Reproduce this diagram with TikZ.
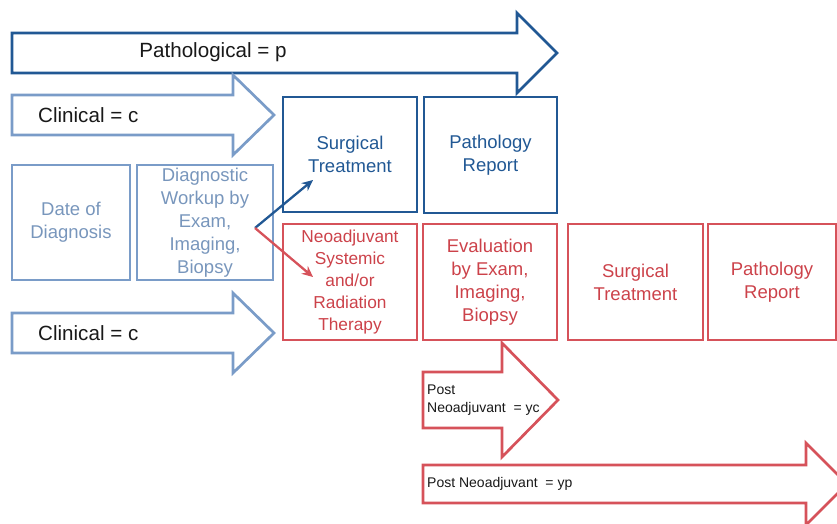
\documentclass[tikz,border=0pt]{standalone}
\usepackage{fontspec}
\setmainfont{Liberation Sans}
\usetikzlibrary{arrows.meta}
\definecolor{dkblue}{RGB}{33,88,148}
\definecolor{ltblue}{RGB}{122,156,200}
\definecolor{lttext}{RGB}{120,150,188}
\definecolor{redline}{RGB}{214,82,90}
\definecolor{redtext}{RGB}{204,66,74}
\definecolor{blk}{RGB}{25,25,25}
\tikzset{
  boxtext/.style={align=center, font=\fontsize{18.5}{23}\selectfont, inner sep=0pt},
  stagebox/.style={rectangle, draw, line width=2.7pt, boxtext},
  bigarrow/.style={line width=2.7pt, fill=white, line join=miter},
  biglabel/.style={font=\fontsize{20.6}{24}\selectfont, text=blk, inner sep=0pt},
  smalllabel/.style={font=\fontsize{14}{18}\selectfont, text=blk, inner sep=0pt, align=left},
  forkarrow/.style={line width=2.3pt, -{Stealth[length=11pt,width=10pt]}}
}
\begin{document}
\begin{tikzpicture}[x=1pt,y=-1pt]
\useasboundingbox (0,0) rectangle (837,523);
% big arrows
\draw[bigarrow, draw=dkblue] (12,33) -- (517,33) -- (517,13) -- (557,53) -- (517,93) -- (517,73) -- (12,73) -- cycle;
\node[biglabel] (path) at (213,52) {Pathological = p};
\draw[bigarrow, draw=ltblue] (12,95) -- (233,95) -- (233,75) -- (274,115) -- (233,155) -- (233,135) -- (12,135) -- cycle;
\node[biglabel, anchor=west] (clin1) at (38,115) {Clinical = c};
\draw[bigarrow, draw=ltblue] (12,313) -- (233,313) -- (233,293) -- (274,333) -- (233,373) -- (233,353) -- (12,353) -- cycle;
\node[biglabel, anchor=west] (clin2) at (38,333) {Clinical = c};
\draw[bigarrow, draw=redline] (423,372) -- (502,372) -- (502,343) -- (558,400) -- (502,457) -- (502,428) -- (423,428) -- cycle;
\node[smalllabel, anchor=west] (yc) at (427,400) {Post\\Neoadjuvant~~= yc};
\draw[bigarrow, draw=redline] (423,465) -- (806,465) -- (806,443) -- (847,484) -- (806,525) -- (806,503) -- (423,503) -- cycle;
\node[smalllabel, anchor=west] (yp) at (427,484) {Post Neoadjuvant~~= yp};
% boxes
\node[stagebox, draw=ltblue, text=lttext, minimum width=118pt, minimum height=115pt] (dod) at (71,222.5) {Date of\\Diagnosis};
\node[stagebox, draw=ltblue, text=lttext, minimum width=136pt, minimum height=115pt] (diag) at (205,222.5) {Diagnostic\\Workup by\\Exam,\\Imaging,\\Biopsy};
\node[stagebox, draw=dkblue, text=dkblue, minimum width=134pt, minimum height=115pt] (surg1) at (350,154.5) {Surgical\\Treatment};
\node[stagebox, draw=dkblue, text=dkblue, minimum width=133pt, minimum height=116pt] (pr1) at (490.5,155) {Pathology\\Report};
\node[stagebox, draw=redline, text=redtext, minimum width=134pt, minimum height=116pt, font=\fontsize{17.3}{22}\selectfont] (neo) at (350,282) {Neoadjuvant\\Systemic\\and/or\\Radiation\\Therapy};
\node[stagebox, draw=redline, text=redtext, minimum width=134pt, minimum height=116pt] (eval) at (490,282) {Evaluation\\by Exam,\\Imaging,\\Biopsy};
\node[stagebox, draw=redline, text=redtext, minimum width=135pt, minimum height=116pt] (surg2) at (635.5,282) {Surgical\\Treatment};
\node[stagebox, draw=redline, text=redtext, minimum width=128pt, minimum height=116pt] (pr2) at (772,282) {Pathology\\Report};
% fork arrows
\coordinate (fork) at (255,228);
\coordinate (blueend) at (313,180);
\coordinate (redend) at (313,277);
\draw[forkarrow, dkblue] (fork) -- (blueend);
\draw[forkarrow, redline] (fork) -- (redend);
\end{tikzpicture}
\end{document}
